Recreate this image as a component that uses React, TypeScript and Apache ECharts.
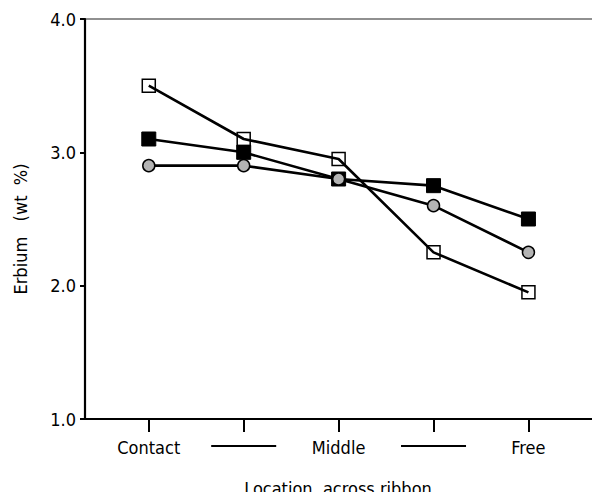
import React, { useEffect, useRef } from "react";
import * as echarts from "echarts";

const categories = ["Contact", "", "Middle", "", "Free"];
const openSquare = [3.5, 3.1, 2.95, 2.25, 1.95];
const filledSquare = [3.1, 3.0, 2.8, 2.75, 2.5];
const circle = [2.9, 2.9, 2.8, 2.6, 2.25];
const yTicks = [1, 2, 3, 4];

const FONT = "'DejaVu Sans Condensed', 'DejaVu Sans', sans-serif";

export default function App() {
  const ref = useRef<HTMLDivElement>(null);
  useEffect(() => {
    if (!ref.current) return;
    const chart = echarts.init(ref.current, null, { renderer: "svg" });
    const toData = (arr: number[]) => arr.map((v, i) => [i, v]);
    const lineStyle = { color: "#000", width: 2.6 };
    chart.setOption({
      animation: false,
      backgroundColor: "#fff",
      grid: {
        left: 85,
        right: -10,
        top: 19,
        bottom: 81,
        show: true,
        borderColor: "#222",
        borderWidth: 1.2,
        backgroundColor: "transparent",
      },
      xAxis: {
        type: "value",
        min: -0.672,
        max: 4.754,
        splitLine: { show: false },
        axisLine: { onZero: false, lineStyle: { color: "#000", width: 2 } },
        axisTick: {
          customValues: [0, 1, 2, 3, 4],
          length: 13,
          lineStyle: { color: "#000", width: 2 },
        },
        axisLabel: {
          customValues: [0, 1, 2, 3, 4],
          formatter: (v: number) => {
            const c = categories[Math.round(v)];
            return c ? c : "{s| }\n{d| }";
          },
          margin: 19,
          color: "#000",
          fontFamily: FONT,
          fontSize: 18,
          rich: {
            s: { width: 65, height: 7, lineHeight: 7, fontSize: 4 },
            d: { width: 65, height: 2, lineHeight: 2, fontSize: 2, backgroundColor: "#000" },
          },
        },
      },
      yAxis: {
        type: "value",
        min: 1,
        max: 4,
        interval: 1,
        splitLine: { show: false },
        axisLine: { show: true, onZero: false, lineStyle: { color: "#000", width: 2.2 } },
        axisTick: { show: true, length: 5, lineStyle: { color: "#000", width: 2 } },
        axisLabel: {
          formatter: (v: number) => (yTicks.includes(v) ? v.toFixed(1) : ""),
          margin: 9,
          color: "#000",
          fontFamily: FONT,
          fontSize: 18,
        },
      },
      graphic: [
        {
          type: "text",
          x: 338,
          y: 488,
          style: {
            text: "Location  across ribbon",
            fontFamily: FONT,
            fontSize: 18,
            fill: "#000",
            textAlign: "center",
            textVerticalAlign: "middle",
          },
        },
        {
          type: "text",
          x: 20,
          y: 229,
          rotation: Math.PI / 2,
          style: {
            text: "Erbium   (wt  %)",
            fontFamily: FONT,
            fontSize: 18,
            fill: "#000",
            textAlign: "center",
            textVerticalAlign: "middle",
          },
        },
      ],
      series: [
        {
          type: "line",
          data: toData(openSquare),
          symbol: "rect",
          symbolSize: 13,
          lineStyle,
          itemStyle: { color: "rgba(255,255,255,0)", borderColor: "#000", borderWidth: 1.5 },
          z: 3,
        },
        {
          type: "line",
          data: toData(filledSquare),
          symbol: "rect",
          symbolSize: 14,
          lineStyle,
          itemStyle: { color: "#000", borderColor: "#000", borderWidth: 1 },
          z: 4,
        },
        {
          type: "line",
          data: toData(circle),
          symbol: "circle",
          symbolSize: 12,
          lineStyle,
          itemStyle: { color: "#b4b4b4", borderColor: "#000", borderWidth: 1.5 },
          z: 5,
        },
      ],
    });
    return () => chart.dispose();
  }, []);
  return <div ref={ref} style={{ width: 600, height: 500, margin: -8 }} />;
}
